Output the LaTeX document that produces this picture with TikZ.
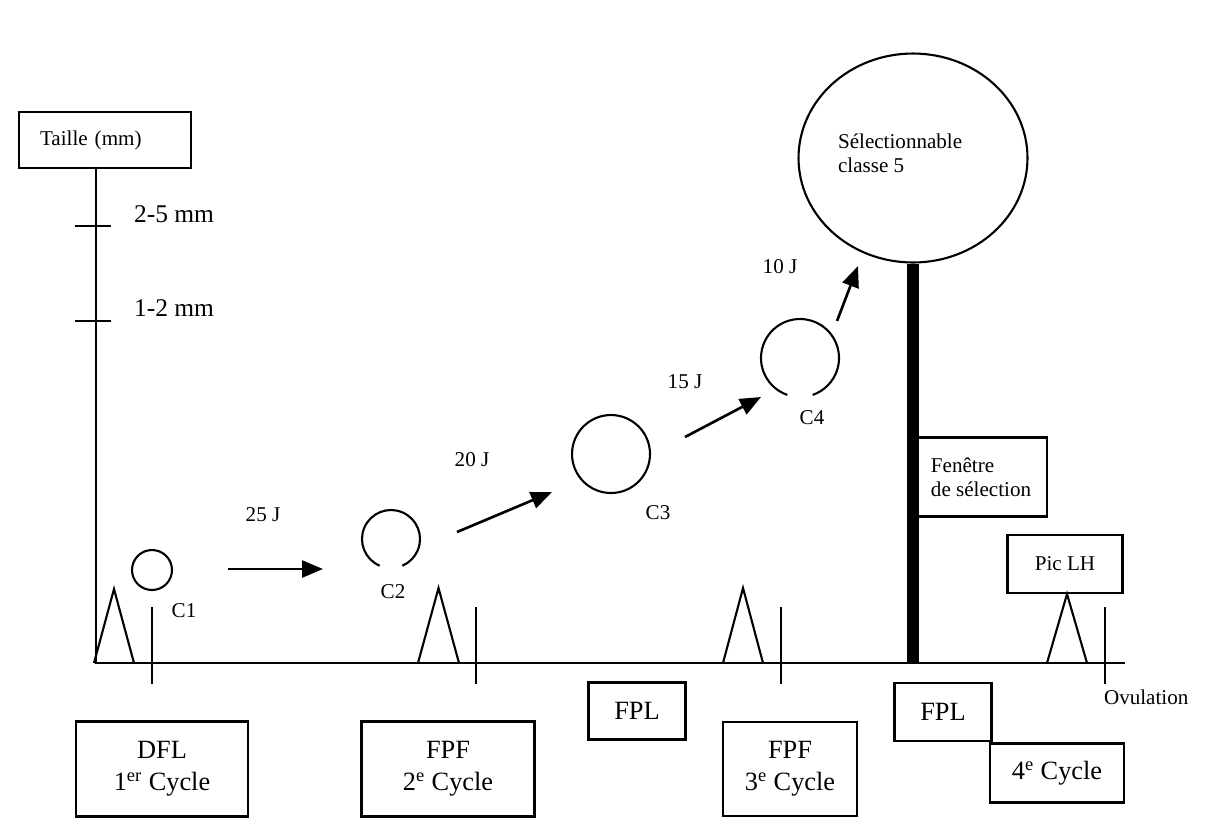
\documentclass[tikz,border=0pt]{standalone}
\usepackage{fontspec}
\setmainfont{Liberation Serif}
\usetikzlibrary{arrows.meta, shapes.geometric}

\begin{document}
\begin{tikzpicture}[
    x=0.02cm, y=-0.02cm, line width=1.2pt,
    lbl/.style={font=\fontsize{12}{13.5}\selectfont, inner sep=0pt},
    ax/.style={font=\fontsize{14.5}{16}\selectfont, inner sep=0pt, anchor=west},
    box/.style={draw, rectangle, font=\fontsize{15}{18}\selectfont,
                align=center, inner sep=0pt},
    foll/.style={circle, draw, inner sep=0pt},
    arr/.style={-{Triangle[length=0.42cm, width=0.34cm]}, line width=1.5pt}
  ]
    \useasboundingbox (0,0) rectangle (1222,823);

    % axes
    \node[box, lbl, align=left, text width=2.6cm, inner xsep=0.42cm,
          minimum height=1.12cm] (taille) at (105,140) {Taille (mm)};
    \coordinate (o) at (96,663);
    \coordinate (xend) at (1125,663);
    \draw (taille.south -| o) -- (o) -- (xend);
    \foreach \y in {226,321}
      \draw (75,\y) -- (111,\y);
    \node[ax] (t25) at (133,214) {2-5 mm};
    \node[ax] (t12) at (133,308) {1-2 mm};

    % LH peaks and cycle marks
    \foreach \a/\b/\t in {94/134/589, 418/459/588, 723/763/588, 1047/1087/594}
      \draw (\a,663) -- ({(\a+\b)/2},\t) -- (\b,663);
    \foreach \x in {152,476,781,1105}
      \draw (\x,607) -- (\x,684);

    % follicles
    \node[foll, minimum size=0.8cm] (c1) at (152,570) {};
    \coordinate (c2) at (391,539);
    \draw ([shift={(113:29)}]c2) arc[start angle=113, end angle=427, radius=29];
    \node[foll, minimum size=1.56cm] (c3) at (611,454) {};
    \coordinate (c4) at (800,358);
    \draw ([shift={(109:39)}]c4) arc[start angle=109, end angle=431, radius=39];
    \node[ellipse, draw, minimum width=4.58cm, minimum height=4.18cm,
          inner sep=0pt] (sel) at (913,158) {};
    \node[lbl, anchor=west, align=left] (seltxt) at (837,153)
      {Sélectionnable\\classe 5};
    \draw[line width=6.8pt] (sel.south) -- (sel.south |- o);

    \node[lbl] (lc1) at (184,611) {C1};
    \node[lbl] (lc2) at (393,592) {C2};
    \node[lbl] (lc3) at (658,513) {C3};
    \node[lbl] (lc4) at (812,418) {C4};

    % growth
    \coordinate (g1a) at (228,569);
    \coordinate (g1b) at (323,569);
    \coordinate (g2a) at (457,532);
    \coordinate (g2b) at (552,492);
    \coordinate (g3a) at (685,437);
    \coordinate (g3b) at (761,397);
    \coordinate (g4a) at (837,321);
    \coordinate (g4b) at (858,266);
    \draw[arr] (g1a) -- (g1b);
    \draw[arr] (g2a) -- (g2b);
    \draw[arr] (g3a) -- (g3b);
    \draw[arr] (g4a) -- (g4b);
    \node[lbl] (d25) at (263,515) {25 J};
    \node[lbl] (d20) at (472,460) {20 J};
    \node[lbl] (d15) at (685,382) {15 J};
    \node[lbl] (d10) at (780,267) {10 J};

    % phases
    \node[box, minimum width=3.44cm, minimum height=1.9cm] (dfl) at (162,769)
      {DFL\\1\textsuperscript{er} Cycle};
    \node[box, minimum width=3.46cm, minimum height=1.9cm] (fpf2) at (448,769)
      {FPF\\2\textsuperscript{e} Cycle};
    \node[box, minimum width=1.94cm, minimum height=1.14cm] (fpl1) at (637,711)
      {FPL};
    \node[box, minimum width=2.68cm, minimum height=1.88cm] (fpf3) at (790,769)
      {FPF\\3\textsuperscript{e} Cycle};
    \node[box, minimum width=1.94cm, minimum height=1.16cm] (fpl2) at (943,712)
      {FPL};
    \node[box, minimum width=2.68cm, minimum height=1.18cm] (cyc4) at (1057,773)
      {4\textsuperscript{e} Cycle};
    \node[box, lbl, align=left, minimum width=2.64cm, minimum height=1.58cm]
      (fen) at (981,477) {Fenêtre\\de sélection};
    \node[box, lbl, minimum width=2.3cm, minimum height=1.16cm] (piclh)
      at (1065,564) {Pic LH};
    \node[lbl, anchor=west] (ovu) at (1103,697) {Ovulation};
  \end{tikzpicture}
\end{document}
